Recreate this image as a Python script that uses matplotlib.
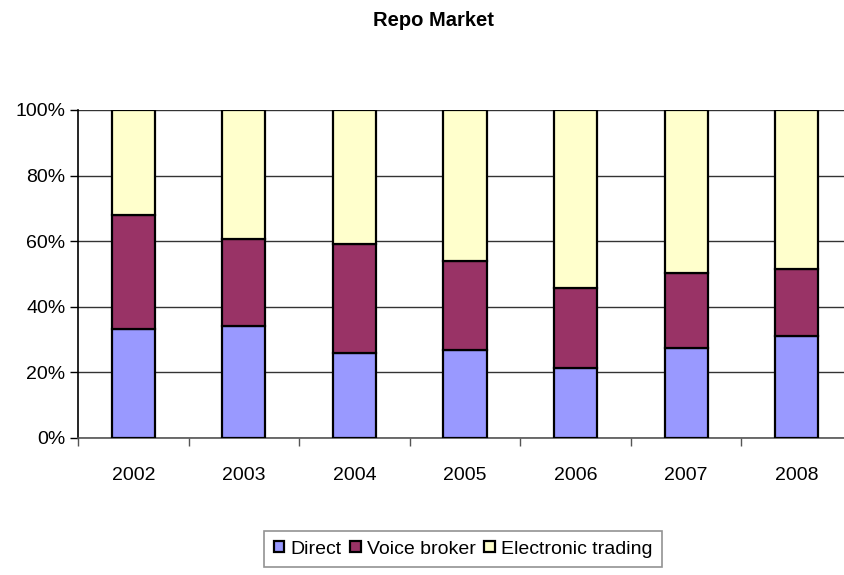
import matplotlib
matplotlib.use('Agg')
import matplotlib.pyplot as plt
import numpy as np
from matplotlib.ticker import FixedLocator, FuncFormatter

years = ['2002', '2003', '2004', '2005', '2006', '2007', '2008']
direct = [33.2, 34.1, 25.9, 26.8, 21.3, 27.4, 31.1]
voice_broker = [34.8, 26.6, 33.2, 27.2, 24.4, 22.9, 20.4]
electronic = [100 - d - v for d, v in zip(direct, voice_broker)]

plt.rcParams['font.family'] = ['Liberation Sans', 'DejaVu Sans']

fig = plt.figure(figsize=(8.45, 5.75), dpi=100)
ax = fig.add_axes([78 / 845, (575 - 438) / 575, 774 / 845, 328 / 575])

x = np.arange(len(years))
w = 0.39
edge = dict(edgecolor='black', linewidth=1.6)
ax.bar(x, direct, w, color='#9999FF', label='Direct', zorder=3, **edge)
ax.bar(x, voice_broker, w, bottom=direct, color='#993366', label='Voice broker', zorder=3, **edge)
bottom2 = [d + v for d, v in zip(direct, voice_broker)]
ax.bar(x, electronic, w, bottom=bottom2, color='#FFFFCC', label='Electronic trading', zorder=3, **edge)

ax.set_xlim(-0.5, len(years) - 0.5)
ax.set_ylim(0, 100)
ax.set_yticks(range(0, 101, 20))
ax.yaxis.set_major_formatter(FuncFormatter(lambda v, p: f'{int(v)}%'))
ax.yaxis.grid(True, color='#333333', linewidth=1.0, zorder=0)

ax.set_xticks(x)
ax.set_xticklabels(years)
ax.xaxis.set_minor_locator(FixedLocator(np.arange(-0.5, len(years), 1.0)))
ax.tick_params(axis='x', which='major', length=0, pad=21, labelsize=14)
ax.tick_params(axis='x', which='minor', length=6, color='#555555', width=1)
ax.tick_params(axis='y', length=6, width=1, labelsize=14, pad=3, direction='out')

for side in ['top', 'right']:
    ax.spines[side].set_visible(False)
ax.spines['left'].set_color('black')
ax.spines['left'].set_linewidth(1.2)
ax.spines['bottom'].set_color('#555555')
ax.spines['bottom'].set_linewidth(1.2)

fig.text(433 / 845, 1 - 20 / 575, 'Repo Market', ha='center', va='center',
         fontsize=14.5, fontweight='bold')

leg = fig.legend(loc='center', bbox_to_anchor=(463 / 845, 1 - 549 / 575), ncol=3,
                 frameon=True, fancybox=False, fontsize=14, handlelength=0.55,
                 handleheight=0.55, handletextpad=0.3, columnspacing=0.45,
                 borderpad=0.5, edgecolor='#777777')
leg.get_frame().set_linewidth(1.2)

fig.savefig('out.png', dpi=100)
